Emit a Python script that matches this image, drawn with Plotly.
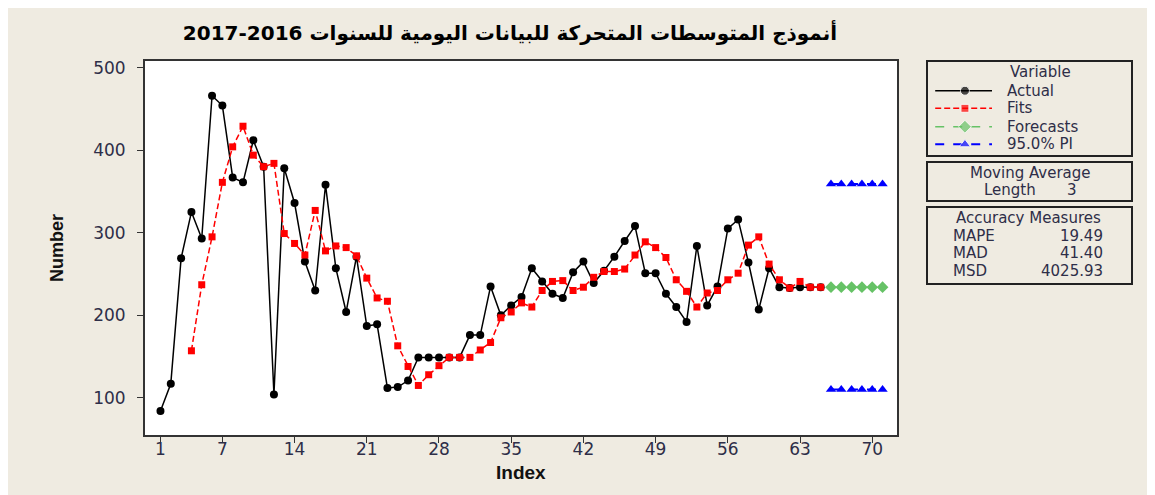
"""Moving average (length 3) chart for daily data, 2016-2017.

Minitab-style time series plot: actual values, fitted moving averages,
forecasts and 95% prediction interval, with the legend and accuracy
boxes drawn on the right like Minitab does.
"""

import plotly.graph_objects as go

# Data
INDEX_ACTUAL = list(range(1, 66))
ACTUAL = [
    84, 117, 269, 325, 293, 466, 454, 367, 361, 412,
    380, 104, 378, 336, 265, 230, 358, 257, 204, 271,
    187, 189, 112, 113, 121, 149, 149, 149, 149, 149,
    176, 176, 235, 200, 212, 222, 257, 241, 226, 221,
    252, 265, 239, 254, 271, 290, 308, 251, 251, 226,
    210, 192, 284, 212, 235, 305, 316, 264, 207, 257,
    234, 233, 234, 234, 234,
]

INDEX_FITS = list(range(4, 66))
FITS = [
    157, 237, 295, 361, 404, 429, 394, 380, 384, 299,
    287, 273, 327, 278, 284, 282, 272, 245, 221, 217,
    163, 138, 115, 128, 139, 149, 149, 149, 158, 167,
    197, 204, 215, 210, 230, 241, 242, 230, 234, 246,
    253, 253, 256, 273, 289, 282, 270, 243, 229, 210,
    227, 230, 243, 251, 285, 295, 262, 243, 233, 241,
    234, 234,
]

INDEX_FORECAST = [66, 67, 68, 69, 70, 71]
FORECASTS = [234, 234, 234, 234, 234, 234]
PI_UPPER = [359, 359, 359, 359, 359, 359]
PI_LOWER = [110, 110, 110, 110, 110, 110]

X_TICKS = [1, 7, 14, 21, 28, 35, 42, 49, 56, 63, 70]
Y_TICKS = [100, 200, 300, 400, 500]

TITLE = "أنموذج المتوسطات المتحركة للبيانات اليومية للسنوات 2016-2017"
SERIES_NAMES = ["Actual", "Fits", "Forecasts", "95.0% PI"]
MA_LENGTH = 3
ACCURACY = [("MAPE", "19.49"), ("MAD", "41.40"), ("MSD", "4025.93")]

BG = "#EFEBE1"
TEXT = "#2E2E48"
FONT = "DejaVu Sans"

# line / marker style of each series: (color, dash, symbol, size, width)
STYLES = {
    "Actual":    ("black",   "solid",   "circle",      8, 1.5),
    "Fits":      ("#FF0000", "6px,3px", "square",      7, 1.5),
    "Forecasts": ("#66C266", "dash",    "diamond",     9, 1.5),
    "95.0% PI":  ("#0000FF", "dash",    "triangle-up", 9, 2.0),
}


# The page puts the figure 8px in from the corner; paper spans page
# pixels x 145..1143 and y 61..435 (plot frame ends at x=897).
def px_x(px):
    return (px - 145) / 998


def px_y(py):
    return (435 - py) / 374


def styled(name):
    color, dash, symbol, size, width = STYLES[name]
    return dict(
        line=dict(color=color, dash=dash, width=width),
        marker=dict(symbol=symbol, size=size, color=color),
    )


fig = go.Figure()

fig.add_trace(go.Scatter(x=INDEX_ACTUAL, y=ACTUAL, mode="lines+markers",
                         name="Actual", **styled("Actual")))
fig.add_trace(go.Scatter(x=INDEX_FITS, y=FITS, mode="lines+markers",
                         name="Fits", **styled("Fits")))
fig.add_trace(go.Scatter(x=INDEX_FORECAST, y=FORECASTS, mode="lines+markers",
                         name="Forecasts", **styled("Forecasts")))
for pi in (PI_UPPER, PI_LOWER):
    fig.add_trace(go.Scatter(x=INDEX_FORECAST, y=pi, mode="lines+markers",
                             name="95.0% PI", **styled("95.0% PI")))

# Legend keys, drawn on a hidden 0..1 axis laid over the legend box
KEY_ROWS = [0.687, 0.502, 0.308, 0.123]
for name, ky in zip(SERIES_NAMES, KEY_ROWS):
    st = styled(name)
    st["marker"]["size"] = [0, STYLES[name][3] + 1, 0]
    fig.add_trace(go.Scatter(
        x=[0.04, 0.185, 0.317], y=[ky, ky, ky], mode="lines+markers",
        xaxis="x2", yaxis="y2", hoverinfo="skip", **st,
    ))

# boxes on the right
box = dict(type="rect", xref="paper", yref="paper",
           line=dict(color="#222222", width=2), fillcolor=BG, layer="below")
fig.add_shape(**box, x0=px_x(927), x1=px_x(1132), y0=px_y(156), y1=px_y(61))
fig.add_shape(**box, x0=px_x(927), x1=px_x(1132), y0=px_y(201), y1=px_y(162))
fig.add_shape(**box, x0=px_x(927), x1=px_x(1132), y0=px_y(284), y1=px_y(207))

# outer frame of the picture (only top/left edges fall inside)
fig.add_shape(type="rect", xref="paper", yref="paper",
              x0=px_x(6), x1=px_x(1400), y0=px_y(700), y1=px_y(7),
              line=dict(color="black", width=2), layer="below")

note = dict(xref="paper", yref="paper", showarrow=False,
            xanchor="center", yanchor="middle",
            font=dict(family=FONT, size=15, color=TEXT))
fig.add_annotation(note, text="Variable", x=px_x(1040), y=px_y(72))
for name, py in zip(SERIES_NAMES, [90.7, 108.3, 126.7, 144.3]):
    fig.add_annotation(note, text=name, x=px_x(1005), y=px_y(py),
                       xanchor="left")
fig.add_annotation(note, text="Moving Average", x=px_x(1030), y=px_y(173))
fig.add_annotation(note, text="Length", x=px_x(1010), y=px_y(190))
fig.add_annotation(note, text=str(MA_LENGTH), x=px_x(1072), y=px_y(190))
fig.add_annotation(note, text="Accuracy Measures", x=px_x(1028), y=px_y(218))
for k, (label, value) in enumerate(ACCURACY):
    yy = px_y(236 + 17.5 * k)
    fig.add_annotation(note, text=label, x=px_x(951), y=yy, xanchor="left")
    fig.add_annotation(note, text=value, x=px_x(1105), y=yy,
                       xanchor="right")

# axis titles
fig.add_annotation(note, text="Index", x=px_x(521), y=px_y(472),
                   font=dict(family="Liberation Sans", size=19,
                             color="#111111", weight="bold"))
fig.add_annotation(note, text="Number", x=px_x(57), y=px_y(248),
                   textangle=-90,
                   font=dict(family="Liberation Sans", size=18,
                             color="#111111", weight="bold"))

axis_common = dict(
    showline=True, mirror=True, linecolor="#333333", linewidth=2,
    ticks="outside", ticklen=6, tickcolor="#333333", tickwidth=1,
    showgrid=False, zeroline=False, automargin=False,
    tickfont=dict(family=FONT, size=17, color=TEXT),
)
hidden = dict(visible=False, range=[0, 1], fixedrange=True)

fig.update_layout(
    width=1155, height=495,
    margin=dict(l=137, r=20, t=53, b=68),
    paper_bgcolor=BG, plot_bgcolor="white",
    showlegend=False,
    title=dict(text=TITLE, x=px_x(510), xref="paper", xanchor="center",
               y=1 - 25 / 495, yanchor="middle",
               font=dict(family=FONT, size=20, color="black", weight="bold")),
    xaxis=dict(**axis_common, domain=[0, px_x(897)], range=[-0.5, 72.4],
               tickvals=X_TICKS, ticklabelstandoff=-8),
    yaxis=dict(**axis_common, range=[55, 508], tickvals=Y_TICKS,
               ticklabelstandoff=8),
    xaxis2=dict(**hidden, domain=[px_x(927), px_x(1132)], anchor="y2"),
    yaxis2=dict(**hidden, domain=[px_y(156), px_y(61)], anchor="x2"),
)

fig.write_html("out.html")
